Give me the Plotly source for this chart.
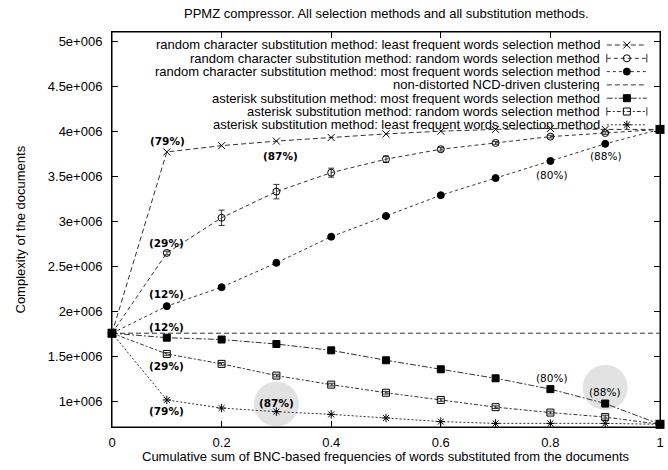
import plotly.graph_objects as go

# fraction of words substituted (cumulative BNC frequency)
x_vals = [0, 0.1, 0.2, 0.3, 0.4, 0.5, 0.6, 0.7, 0.8, 0.9, 1.0]

# complexity of the documents
rc_least = [1.76e6, 3.77e6, 3.84e6, 3.89e6, 3.93e6, 3.97e6, 4.00e6, 4.02e6, 4.03e6, 4.02e6, 4.02e6]
rc_random = [1.76e6, 2.65e6, 3.04e6, 3.33e6, 3.54e6, 3.69e6, 3.80e6, 3.87e6, 3.94e6, 3.98e6, 4.02e6]
rc_random_err = [0, 0.02e6, 0.085e6, 0.08e6, 0.05e6, 0.035e6, 0.02e6, 0.015e6, 0.015e6, 0.015e6, 0]
rc_most = [1.76e6, 2.06e6, 2.27e6, 2.54e6, 2.83e6, 3.06e6, 3.29e6, 3.48e6, 3.67e6, 3.86e6, 4.02e6]
non_distorted = [1.76e6] * len(x_vals)
ast_most = [1.76e6, 1.71e6, 1.69e6, 1.64e6, 1.57e6, 1.46e6, 1.36e6, 1.26e6, 1.14e6, 0.98e6, 0.75e6]
ast_random = [1.76e6, 1.53e6, 1.42e6, 1.29e6, 1.19e6, 1.10e6, 1.02e6, 0.94e6, 0.88e6, 0.83e6, 0.75e6]
ast_random_err = [0, 0.015e6, 0.015e6, 0.015e6, 0.015e6, 0.015e6, 0.015e6, 0.015e6, 0.015e6, 0.02e6, 0]
ast_least = [1.76e6, 1.02e6, 0.93e6, 0.89e6, 0.86e6, 0.82e6, 0.78e6, 0.76e6, 0.76e6, 0.76e6, 0.75e6]

# percentage labels
lab_x = [0.101, 0.307, 0.1, 0.1, 0.1, 0.1, 0.1, 0.3, 0.802, 0.902, 0.802, 0.9]
lab_y = [3.89e6, 3.73e6, 2.76e6, 2.19e6, 1.83e6, 1.40e6, 0.90e6, 0.99e6, 3.51e6, 3.73e6, 1.26e6, 1.11e6]
lab_txt = ["(79%)", "(87%)", "(29%)", "(12%)", "(12%)", "(29%)", "(79%)", "(87%)",
           "(80%)", "(88%)", "(80%)", "(88%)"]
lab_bold = [True] * 8 + [False] * 4

# grey highlight circles
hl_x = [0.3, 0.9]
hl_y = [0.975e6, 1.16e6]

y_ticks = [1e6, 1.5e6, 2e6, 2.5e6, 3e6, 3.5e6, 4e6, 4.5e6, 5e6]
y_tick_text = ["1e+006", "1.5e+006", "2e+006", "2.5e+006", "3e+006",
               "3.5e+006", "4e+006", "4.5e+006", "5e+006"]
x_ticks = [0, 0.2, 0.4, 0.6, 0.8, 1]
x_tick_text = ["0", "0.2", "0.4", "0.6", "0.8", "1"]

FONT = "Liberation Sans"
FS = 13
LC = "#333333"
Y_RANGE = [0.72e6, 5.1e6]

series = [
    dict(name="random character substitution method: least frequent words selection method",
         y=rc_least, err=None, dash="5px,3px", symbol="x-thin-open", size=7),
    dict(name="random character substitution method: random words selection method",
         y=rc_random, err=rc_random_err, dash="4px,3px", symbol="circle-open", size=7),
    dict(name="random character substitution method: most frequent words selection method",
         y=rc_most, err=None, dash="3px,3px", symbol="circle", size=7),
    dict(name="non-distorted NCD-driven clustering",
         y=non_distorted, err=None, dash="5px,3px", symbol=None, size=0),
    dict(name="asterisk substitution method: most frequent words selection method",
         y=ast_most, err=None, dash="6px,2px,2px,2px", symbol="square", size=7),
    dict(name="asterisk substitution method: random words selection method",
         y=ast_random, err=ast_random_err, dash="4px,2px,2px,2px", symbol="square-open", size=7),
    dict(name="asterisk substitution method: least frequent words selection method",
         y=ast_least, err=None, dash="2px,2px", symbol="asterisk-open", size=7),
]

fig = go.Figure()

# highlight circles behind labels
fig.add_trace(go.Scatter(x=hl_x, y=hl_y, mode="markers", showlegend=False, hoverinfo="skip",
                         marker=dict(size=45, color="#e2e2e2", line=dict(width=0))))

for s in series:
    fig.add_trace(go.Scatter(
        x=x_vals, y=s["y"],
        mode="lines" if s["symbol"] is None else "lines+markers",
        line=dict(color=LC, width=1, dash=s["dash"]),
        marker=dict(symbol=s["symbol"] or "circle", size=s["size"], color="black",
                    line=dict(color="black", width=1)),
        error_y=None if s["err"] is None else dict(type="data", array=s["err"], visible=True,
                                                   color=LC, thickness=1, width=3),
        name=s["name"], showlegend=False, cliponaxis=False,
    ))

# end points (big filled squares)
fig.add_trace(go.Scatter(x=[x_vals[0], x_vals[-1], x_vals[-1]],
                         y=[ast_most[0], rc_least[-1], ast_most[-1]],
                         mode="markers", showlegend=False, cliponaxis=False,
                         marker=dict(symbol="square", size=9, color="black")))

# percentage labels
for xx, yy, t, b in zip(lab_x, lab_y, lab_txt, lab_bold):
    fig.add_annotation(x=xx, y=yy, text=f"<b>{t}</b>" if b else t, showarrow=False,
                       font=dict(family="DejaVu Sans", size=10.5, color="black"))

W, H = 668, 470
ML, MR, MT, MB = 112, 8, 32, 43
ph = H - MT - MB
row0, step = 13, 13.3          # key rows, px below the plot top
key_x0, key_x1, key_txt = 0.903, 0.976, 0.892


def to_y(frac):
    return Y_RANGE[0] + frac * (Y_RANGE[1] - Y_RANGE[0])


# gnuplot-style key (text right-aligned, sample on the right)
for i, s in enumerate(series):
    ry = 1 - (row0 + i * step) / ph
    fig.add_annotation(xref="paper", yref="paper", x=key_txt, y=ry, xanchor="right",
                       yanchor="middle", text=s["name"], showarrow=False, height=13,
                       borderpad=0, font=dict(family=FONT, size=FS, color="black"))
    fig.add_trace(go.Scatter(x=[key_x0, key_x1], y=[to_y(ry), to_y(ry)],
                             mode="lines", line=dict(color=LC, width=1, dash=s["dash"]),
                             showlegend=False, hoverinfo="skip"))
    if s["symbol"] is not None:
        fig.add_trace(go.Scatter(x=[(key_x0 + key_x1) / 2], y=[to_y(ry)],
                                 mode="markers", showlegend=False, hoverinfo="skip",
                                 marker=dict(symbol=s["symbol"], size=s["size"], color="black",
                                             line=dict(color="black", width=1))))
    if s["err"] is not None:
        fig.add_trace(go.Scatter(x=[key_x0, key_x1], y=[to_y(ry), to_y(ry)],
                                 mode="markers", showlegend=False, hoverinfo="skip",
                                 marker=dict(symbol="line-ns-open", size=6, color=LC,
                                             line=dict(color=LC, width=1))))

axis_common = dict(showline=True, linecolor="black", linewidth=1,
                   ticks="inside", ticklen=6, tickcolor="black", showgrid=False,
                   zeroline=False, automargin=False,
                   tickfont=dict(family=FONT, size=FS, color="black"))

fig.update_layout(
    width=W, height=H,
    margin=dict(l=ML, r=MR, t=MT, b=MB),
    plot_bgcolor="white", paper_bgcolor="white",
    showlegend=False,
    xaxis=dict(range=[0, 1], tickvals=x_ticks, ticktext=x_tick_text,
               ticklabelstandoff=3, **axis_common),
    yaxis=dict(range=Y_RANGE, tickvals=y_ticks, ticktext=y_tick_text,
               ticklabelstandoff=6, **axis_common),
    # mirrored ticks on top / right, like gnuplot's border
    xaxis2=dict(range=[0, 1], overlaying="x", side="top", tickvals=x_ticks,
                showticklabels=False, ticks="inside", ticklen=6, tickcolor="black",
                showline=True, linecolor="black", showgrid=False, zeroline=False),
    yaxis2=dict(range=Y_RANGE, overlaying="y", side="right", tickvals=y_ticks,
                showticklabels=False, ticks="inside", ticklen=6, tickcolor="black",
                showline=True, linecolor="black", showgrid=False, zeroline=False),
    annotations=list(fig.layout.annotations) + [
        dict(xref="paper", yref="paper", x=0.5, y=1, yshift=19, yanchor="middle",
             text="PPMZ compressor. All selection methods and all substitution methods.",
             showarrow=False, font=dict(family=FONT, size=FS, color="black")),
        dict(xref="paper", yref="paper", x=0.5, y=0, yshift=-29, yanchor="middle",
             text="Cumulative sum of BNC-based frequencies of words substituted from the documents",
             showarrow=False, font=dict(family=FONT, size=FS, color="black")),
        dict(xref="paper", yref="paper", x=0, xshift=-92, y=0.5, textangle=-90,
             xanchor="center", yanchor="middle",
             text="Complexity of the documents",
             showarrow=False, font=dict(family=FONT, size=FS, color="black")),
    ],
    shapes=[dict(type="rect", xref="paper", yref="paper", x0=0, x1=1, y0=0, y1=1,
                 line=dict(color="black", width=1), layer="above")],
)

# an invisible trace on the overlay axes so they get drawn
fig.add_trace(go.Scatter(x=[0], y=[Y_RANGE[0]], xaxis="x2", yaxis="y2", mode="markers",
                         marker=dict(size=0, opacity=0), showlegend=False, hoverinfo="skip"))

# page body margin off, so the 668x470 figure fills the window exactly
fig.write_html("out.html", config={"displayModeBar": False},
               post_script="document.body.style.margin='0';")
